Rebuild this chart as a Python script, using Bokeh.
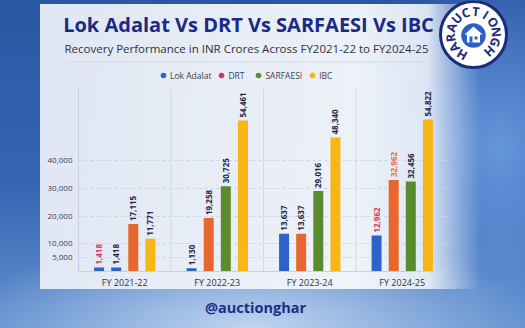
from math import pi, sin, cos, radians

from bokeh.core.properties import value
from bokeh.embed import file_html
from bokeh.layouts import column
from bokeh.models import (ColumnDataSource, FactorRange, FixedTicker, Legend, LegendItem,
                          NumeralTickFormatter, Range1d, Span)
from bokeh.plotting import figure
from bokeh.resources import INLINE
from bokeh.transform import dodge

# ---- data -----------------------------------------------------------------
fiscal_years = ["FY 2021-22", "FY 2022-23", "FY 2023-24", "FY 2024-25"]
series_names = ["Lok Adalat", "DRT", "SARFAESI", "IBC"]
lok_adalat = [1418, 1130, 13637, 12962]
drt = [1418, 19258, 13637, 32962]
sarfaesi = [17115, 30725, 29016, 32456]
ibc = [11771, 54461, 48340, 54822]
y_ticks = [5000, 10000, 20000, 30000, 40000]

title_text = "Lok Adalat Vs DRT Vs SARFAESI Vs IBC"
subtitle_text = "Recovery Performance in INR Crores Across FY2021-22 to FY2024-25"
handle_text = "@auctionghar"
badge_text = "HARAUCTIONGH"

# ---- styles ---------------------------------------------------------------
FONT = "Open Sans"
BLUE = "#2d62c6"
ORANGE = "#e9662e"
GREEN = "#5c8a2f"
AMBER = "#f7b516"
CRIMSON = "#d9335a"
NAVY = "#1b2a85"
BADGE_NAVY = "#1c2c7c"
DARK = "#22263f"
legend_colors = [BLUE, CRIMSON, GREEN, AMBER]

bar_colors = [
    [BLUE, BLUE, BLUE, BLUE],
    [BLUE, ORANGE, ORANGE, ORANGE],
    [ORANGE, GREEN, GREEN, GREEN],
    [AMBER, AMBER, AMBER, AMBER],
]
label_colors = [
    [CRIMSON, DARK, DARK, CRIMSON],
    [DARK, DARK, DARK, "#e8733c"],
    [DARK, DARK, DARK, DARK],
    [DARK, DARK, DARK, DARK],
]
offsets = [-0.2775, -0.0925, 0.0925, 0.2775]
BAR_WIDTH = 0.108

W = 525
HEAD_H, CHART_H, FOOT_H = 88, 205, 35


def transparent(fig):
    fig.background_fill_alpha = 0
    fig.border_fill_alpha = 0
    fig.outline_line_color = None
    fig.frame_align = False
    return fig


def canvas_figure(h):
    """A figure whose data units are pixels, origin at top-left."""
    fig = figure(width=W, height=h, x_range=Range1d(0, W), y_range=Range1d(h, 0),
                 output_backend="svg", toolbar_location=None, min_border=0,
                 min_border_left=0, min_border_right=0, min_border_top=0, min_border_bottom=0)
    fig.axis.visible = False
    fig.grid.grid_line_color = None
    return transparent(fig)


# ---- header: title, subtitle, legend and badge ------------------------------
head = canvas_figure(HEAD_H)
head.text(x=[248], y=[24], text=[title_text], text_align="center", text_baseline="middle",
          text_font=value(FONT), text_font_size="20px", text_font_style="bold",
          text_color=NAVY)
head.text(x=[246], y=[48], text=[subtitle_text], text_align="center", text_baseline="middle",
          text_font=value(FONT), text_font_size="11.5px", text_color="#2e3142")
head.segment(x0=[66], y0=[61.5], x1=[432], y1=[61.5], line_color="#d3d9e6", line_width=1)

# legend swatches: renderers hold a single undefined point so only the key is drawn
nan = float("nan")
items = []
for name, col in zip(series_names, legend_colors):
    r = head.scatter(x=[nan], y=[nan], marker="circle", size=7, fill_color=col, line_color=None)
    items.append(LegendItem(label=name, renderers=[r]))
legend = Legend(items=items, orientation="horizontal", location=(156, 6),
                background_fill_alpha=0, border_line_color=None,
                label_text_font=FONT, label_text_font_size="8.5px",
                label_text_color="#3a3f4f", glyph_width=14, glyph_height=14,
                label_standoff=0, spacing=3, padding=0, margin=0, label_height=10)
head.add_layout(legend, "center")

cx, cy = 473, 34
head.circle(x=[cx], y=[cy], radius=33, fill_color="white", line_color=BADGE_NAVY, line_width=3)
head.circle(x=[cx], y=[cy + 1], radius=13, fill_color="#2c60c4", line_color="white", line_width=1.5)
head.patch(x=[cx, cx + 9, cx + 6.5, cx + 6.5, cx - 6.5, cx - 6.5, cx - 9],
           y=[cy - 8, cy, cy, cy + 8, cy + 8, cy, cy],
           fill_color="white", line_color=None)
head.quad(left=[cx - 4, cx + 1], right=[cx - 1, cx + 4], top=[cy + 2, cy + 2],
          bottom=[cy + 8, cy + 5], fill_color="#2c60c4", line_color=None)
start_deg, step_deg, r_txt = 210, 26, 23
angles = [radians(start_deg + k * step_deg) for k in range(len(badge_text))]
head.text(x=[cx + r_txt * sin(a) for a in angles], y=[cy - r_txt * cos(a) for a in angles],
          text=list(badge_text), angle=[-a for a in angles],
          text_align="center", text_baseline="middle",
          text_font=value(FONT), text_font_size="12.5px", text_font_style="bold",
          text_color=BADGE_NAVY)

# ---- grouped bar chart -----------------------------------------------------
p = figure(
    width=W, height=CHART_H,
    x_range=FactorRange(factors=fiscal_years, range_padding=0),
    y_range=Range1d(0, 66000),
    output_backend="svg", toolbar_location=None,
    min_border_left=78, min_border_right=77,
    min_border_top=0, min_border_bottom=22,
)
transparent(p)

series = [lok_adalat, drt, sarfaesi, ibc]
for i, vals in enumerate(series):
    src = ColumnDataSource(dict(
        fy=fiscal_years,
        value=vals,
        label=[f"{v:,}" for v in vals],
        fill=bar_colors[i],
        label_color=label_colors[i],
    ))
    xpos = dodge("fy", offsets[i], range=p.x_range)
    p.vbar(x=xpos, top="value", width=BAR_WIDTH, source=src,
           fill_color="fill", line_color=None)
    p.text(x=xpos, y="value", text="label", source=src, angle=pi / 2,
           text_align="left", text_baseline="middle", y_offset=-3,
           text_font=value(FONT), text_font_size="8px", text_font_style="bold",
           text_color="label_color")

# separators between fiscal years
for b in [1, 2, 3]:
    p.add_layout(Span(location=b, dimension="height", line_color="#d3d8e3", line_width=1))

p.xgrid.grid_line_color = None
p.ygrid.ticker = FixedTicker(ticks=y_ticks)
p.ygrid.grid_line_color = "#cdd3df"
p.ygrid.grid_line_dash = "3 3"

p.yaxis.ticker = FixedTicker(ticks=y_ticks)
p.yaxis.formatter = NumeralTickFormatter(format="0,0")
p.yaxis.major_label_text_font = FONT
p.yaxis.major_label_text_font_size = "8px"
p.yaxis.major_label_text_color = "#3a3e52"
p.yaxis.major_tick_line_color = None
p.yaxis.major_tick_out = 0
p.yaxis.major_tick_in = 0
p.yaxis.minor_tick_line_color = None
p.yaxis.axis_line_color = "#c9cfdc"
p.yaxis.major_label_standoff = 6

p.xaxis.major_label_text_font = FONT
p.xaxis.major_label_text_font_size = "9px"
p.xaxis.major_label_text_color = "#2f3342"
p.xaxis.major_tick_line_color = None
p.xaxis.major_tick_out = 0
p.xaxis.major_tick_in = 0
p.xaxis.axis_line_color = "#c9cfdc"
p.xaxis.major_label_standoff = 4

# ---- footer ----------------------------------------------------------------
foot = canvas_figure(FOOT_H)
foot.text(x=[255], y=[14], text=[handle_text], text_align="center", text_baseline="middle",
          text_font=value(FONT), text_font_size="14.5px", text_font_style="bold",
          text_color="#1b2e86")

# page backdrop: blue gradient with a pale card behind the chart
backdrop = {
    "background": (
        "linear-gradient(90deg, rgba(230,235,245,0.97) 0%, rgba(243,246,251,0.97) 72%, "
        "rgba(238,243,251,0.9) 88%, rgba(210,226,250,0) 100%) 40px 4px / 440px 285px no-repeat, "
        "radial-gradient(ellipse 55% 30% at 48% 100%, rgba(196,216,242,0.95), rgba(196,216,242,0) 100%), "
        "radial-gradient(ellipse 25% 55% at 95% 45%, rgba(110,160,228,0.85), rgba(110,160,228,0) 100%), "
        "linear-gradient(180deg, #2a57a2 0%, #3565b2 55%, #6391d0 100%)"
    )
}
page = column(head, p, foot, spacing=0, styles=backdrop)

open("out.html", "w").write(file_html(page, INLINE))
